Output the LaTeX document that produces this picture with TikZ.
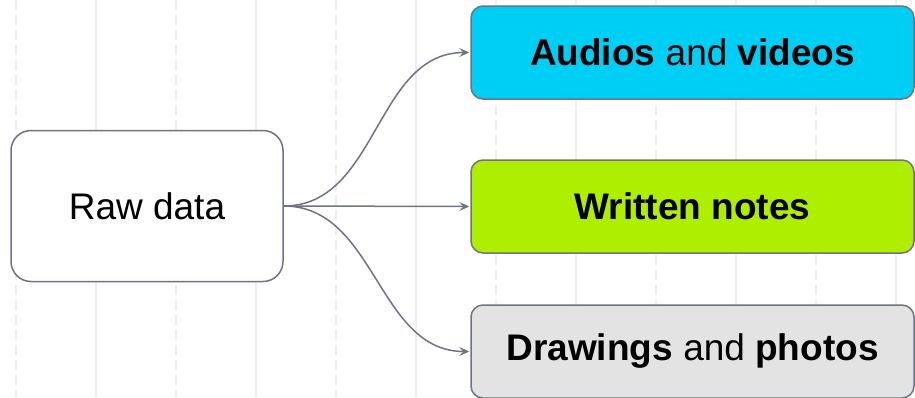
\documentclass[tikz,border=0pt]{standalone}
\usepackage{fontspec}
\setmainfont{Liberation Sans}
\usetikzlibrary{arrows.meta}
\definecolor{edgegray}{HTML}{6E7386}
\definecolor{gridgray}{HTML}{EEEEEE}
\definecolor{avcyan}{HTML}{00CFF5}
\definecolor{notelime}{HTML}{AEEE00}
\definecolor{photogray}{HTML}{E3E3E3}
\begin{document}
\begin{tikzpicture}[x=1pt, y=-1pt,
  box/.style={draw=edgegray, line width=1.5pt, rounded corners=12pt,
    minimum width=443pt, minimum height=93pt, inner sep=0pt,
    font=\fontsize{37}{44}\selectfont},
  link/.style={draw=edgegray, line width=1.5pt,
    -{Stealth[length=10pt,width=9pt,inset=4pt]}}]
\useasboundingbox (0,0) rectangle (915,397);
%\draw[dotted] (0,0) grid (915,397);
\foreach \x in {16,176,...,816}{
    \draw[gridgray, line width=1.5pt, dash pattern=on 10pt off 5pt] (\x,0)--(\x,397);
}
\foreach \x in {96,256,...,896}{
    \draw[gridgray, line width=1.5pt] (\x,0)--(\x,397);
}
\node[box, fill=white, rounded corners=20pt, minimum width=272pt, minimum height=151pt] (raw) at (147,206) {Raw data};
\node[box, fill=avcyan] (av) at (692.5,52.5) {\textbf{Audios} and \textbf{videos}};
\node[box, fill=notelime] (notes) at (692.5,206.5) {\textbf{Written notes}};
\node[box, fill=photogray] (photos) at (692.5,351.5) {\textbf{Drawings} and \textbf{photos}};
\draw[link] (raw.east) to[out=0, in=180] ([xshift=-1pt]av.west);
\draw[link] (raw.east) -- ([xshift=-1pt]notes.west);
\draw[link] (raw.east) to[out=0, in=180] ([xshift=-1pt]photos.west);
\end{tikzpicture}
\end{document}
